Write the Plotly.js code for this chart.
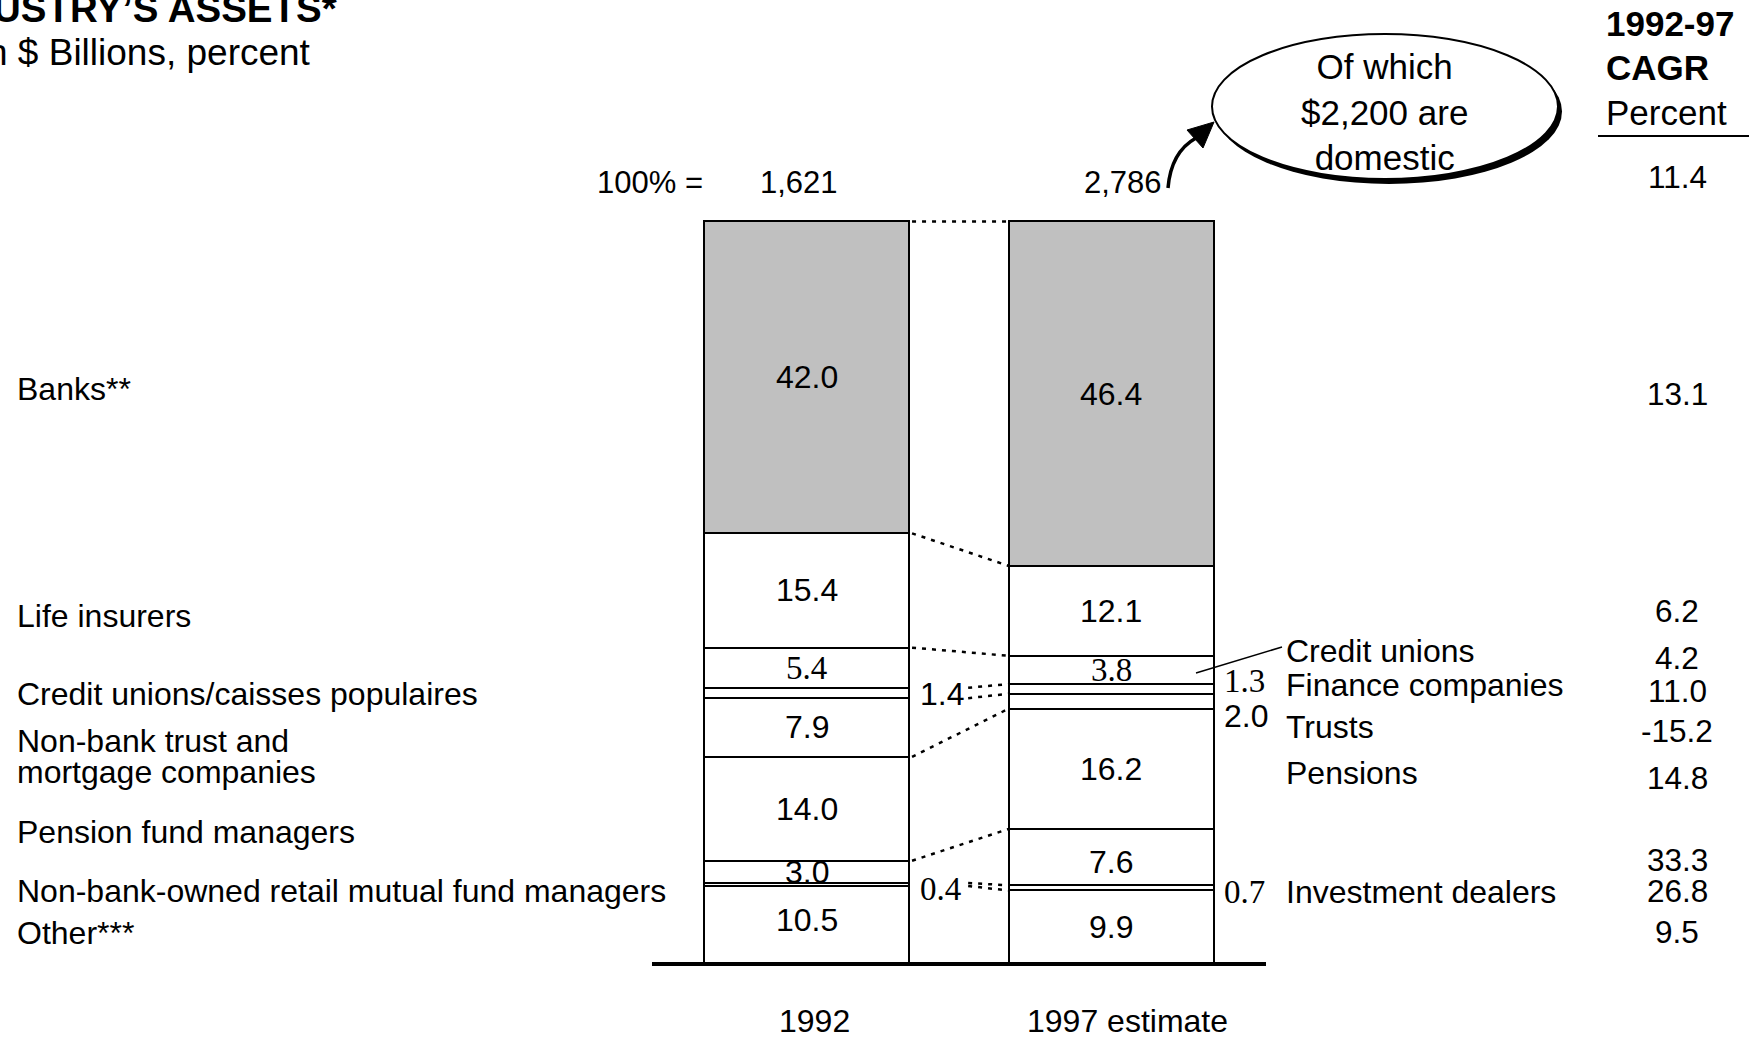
<!DOCTYPE html>
<html>
<head>
<meta charset="utf-8">
<script src="https://cdn.plot.ly/plotly-3.0.1.min.js"></script>
<style>
  html, body { margin: 0; padding: 0; background: #ffffff; }
  #chart { width: 1752px; height: 1040px; }
</style>
</head>
<body>
<div id="chart"></div>
<script>
// ---------------- DATA ----------------
const years = ['1992', '1997 estimate'];
const totals = ['1,621', '2,786'];
const totalLabel = '100% =';
// segments listed from the bottom of each bar to the top
const segments = ['Other', 'Investment dealers', 'Mutual funds', 'Pensions', 'Trusts', 'Finance companies', 'Credit unions', 'Life insurers', 'Banks'];
const share1992 = [10.5, 0.4, 3.0, 14.0, 7.9, 1.4, 5.4, 15.4, 42.0];
const share1997 = [9.9, 0.7, 7.6, 16.2, 2.0, 1.3, 3.8, 12.1, 46.4];
const cagr = [9.5, 26.8, 33.3, 14.8, -15.2, 11.0, 4.2, 6.2, 13.1];
const cagrTotal = 11.4;
const leftLabels = ['Banks**', 'Life insurers', 'Credit unions/caisses populaires', 'Non-bank trust and', 'mortgage companies', 'Pension fund managers', 'Non-bank-owned retail mutual fund managers', 'Other***'];
const rightLabels = ['Credit unions', 'Finance companies', 'Trusts', 'Pensions', 'Investment dealers'];
const headerLines = ['1992-97', 'CAGR', 'Percent'];
const calloutLines = ['Of which', '$2,200 are', 'domestic'];
const titleText = 'USTRY\u2019S ASSETS*';
const subtitleText = 'n $ Billions, percent';

// ---------------- GEOMETRY / STYLE ----------------
const W = 1752, H = 1040;
const L = 652, R = 1266, T = 214, B = 964;
const YMAX = 101;
const X = px => (px - L) / (R - L);
const Y = py => (B - py) / (B - T);
const SANS = 'Liberation Sans, Arial, sans-serif';
const SERIF = 'Liberation Serif, Times New Roman, serif';
const FS = 32;
const BAR_W = 0.672;
const HALF = BAR_W / 2;

const shares = [share1992, share1997];
const cumTops = arr => { let c = 0; return arr.map(v => (c += v)); };
const tops = shares.map(cumTops);

// ---------------- TRACES ----------------
const traces = [];
segments.forEach((s, i) => {
  traces.push({
    type: 'bar',
    name: s,
    x: [0, 1],
    y: [share1992[i], share1997[i]],
    width: BAR_W,
    marker: { color: s === 'Banks' ? '#c0c0c0' : '#ffffff', line: { color: '#000000', width: 2 } },
    cliponaxis: false,
    hoverinfo: 'skip',
    showlegend: false
  });
});

// dotted connectors between the bars at the top of each segment
const betweenLabelSegs = [1, 5]; // 1992 segments labelled in the gap
segments.forEach((s, i) => {
  const nearGapLabel = betweenLabelSegs.includes(i) || betweenLabelSegs.includes(i + 1);
  const x0 = nearGapLabel ? 0.53 : HALF + 0.01;
  traces.push({
    type: 'scatter', mode: 'lines',
    x: [x0, 1 - HALF],
    y: [tops[0][i], tops[1][i]],
    line: { color: '#000000', width: 2.5, dash: '4px,6px' },
    hoverinfo: 'skip', showlegend: false
  });
});

// ---------------- ANNOTATIONS ----------------
const ann = [];
const txt = (o) => Object.assign({ showarrow: false, font: { family: SANS, size: FS, color: '#000' } }, o);

// in-bar value labels
const outside = [[1, 5], [1, 4, 5]];
const serifIdx = [[1, 6], [1, 5, 6]];
const insideShift = { '0-0': 5, '1-2': -5 };
shares.forEach((arr, b) => {
  arr.forEach((v, i) => {
    if (outside[b].includes(i)) return;
    const mid = tops[b][i] - v / 2;
    const serif = serifIdx[b].includes(i);
    ann.push(txt({
      xref: 'x', yref: 'y', x: b, y: mid, yshift: insideShift[b + '-' + i] || 0, text: v.toFixed(1),
      xanchor: 'center', yanchor: 'middle',
      font: { family: serif ? SERIF : SANS, size: serif ? 33 : FS, color: '#000' }
    }));
  });
});
// labels for thin segments, placed beside the bars
const sideShift = { '0-1': -4.5, '0-5': -1, '1-1': -4, '1-4': -15, '1-5': 8 };
shares.forEach((arr, b) => {
  outside[b].forEach(i => {
    const mid = tops[b][i] - arr[i] / 2;
    const serif = serifIdx[b].includes(i);
    ann.push(txt({
      xref: 'x', yref: 'y', x: b + HALF, y: mid, xshift: b === 0 ? 9 : 8,
      yshift: sideShift[b + '-' + i],
      text: arr[i].toFixed(1), xanchor: 'left', yanchor: 'middle',
      font: { family: serif ? SERIF : SANS, size: serif ? 33 : 32, color: '#000' }
    }));
  });
});

// totals above bars
ann.push(txt({ xref: 'paper', yref: 'paper', x: X(650), y: Y(183), text: totalLabel, xanchor: 'center', yanchor: 'middle', font: { family: SANS, size: 31, color: '#000' } }));
totals.forEach((t, b) => {
  ann.push(txt({ xref: 'x', yref: 'paper', x: b, xshift: b === 0 ? -8 : 12, y: Y(183), text: t, xanchor: 'center', yanchor: 'middle', font: { family: SANS, size: 31, color: '#000' } }));
});
// category labels under the baseline
years.forEach((yr, b) => {
  ann.push(txt({ xref: 'x', yref: 'paper', x: b, xshift: b === 0 ? 8 : 16, y: Y(1021), text: yr, xanchor: 'center', yanchor: 'middle' }));
});

// left-hand category names
const leftY = [389, 616, 694, 741, 772, 832, 891, 933];
leftLabels.forEach((t, k) => {
  ann.push(txt({ xref: 'paper', yref: 'paper', x: X(15), y: Y(leftY[k]), text: t, xanchor: 'left', yanchor: 'middle' }));
});
// right-hand names
const rightY = [651, 685, 727, 773, 892];
rightLabels.forEach((t, k) => {
  ann.push(txt({ xref: 'paper', yref: 'paper', x: X(1284), y: Y(rightY[k]), text: t, xanchor: 'left', yanchor: 'middle' }));
});

// CAGR column
const cagrY = [932, 891, 860, 778, 731, 691, 658, 611, 394];
cagr.forEach((v, i) => {
  ann.push(txt({ xref: 'paper', yref: 'paper', x: X(1677), y: Y(cagrY[i]), text: v.toFixed(1), xanchor: 'center', yanchor: 'middle', font: { family: SANS, size: 31.5, color: '#000' } }));
});
ann.push(txt({ xref: 'paper', yref: 'paper', x: X(1677), y: Y(177), text: cagrTotal.toFixed(1), xanchor: 'center', yanchor: 'middle', font: { family: SANS, size: 31.5, color: '#000' } }));
const headerY = [24, 67, 112];
headerLines.forEach((t, k) => {
  ann.push(txt({
    xref: 'paper', yref: 'paper', x: X(1604), y: Y(headerY[k]), text: k < 2 ? '<b>' + t + '</b>' : t,
    xanchor: 'left', yanchor: 'middle', font: { family: SANS, size: 35, color: '#000' }
  }));
});

// callout text
ann.push(txt({ xref: 'paper', yref: 'paper', x: X(1384), y: Y(112), text: calloutLines.join('<br>'), xanchor: 'center', yanchor: 'middle', align: 'center', font: { family: SANS, size: 35, color: '#000' } }));

// title and subtitle (cropped at the left edge in the original)
ann.push(txt({ xref: 'paper', yref: 'paper', x: X(-9), y: Y(8), text: '<b>' + titleText + '</b>', xanchor: 'left', yanchor: 'middle', font: { family: SANS, size: 38.5, color: '#000' } }));
ann.push(txt({ xref: 'paper', yref: 'paper', x: X(-15), y: Y(52), text: subtitleText, xanchor: 'left', yanchor: 'middle', font: { family: SANS, size: 37, color: '#000' } }));

// ---------------- SHAPES ----------------
const P = (px, py) => X(px) + ',' + Y(py);
const shapes = [
  // baseline
  { type: 'line', xref: 'paper', yref: 'paper', x0: X(652), x1: X(1266), y0: Y(964), y1: Y(964), line: { color: '#000', width: 4 } },
  // callout shadow + ellipse
  { type: 'circle', xref: 'paper', yref: 'paper', x0: X(1216), x1: X(1562), y0: Y(184), y1: Y(39), fillcolor: '#000', line: { width: 0 } },
  { type: 'circle', xref: 'paper', yref: 'paper', x0: X(1212), x1: X(1558), y0: Y(179), y1: Y(34), fillcolor: '#fff', line: { color: '#000', width: 2 } },
  // curved arrow
  { type: 'path', xref: 'paper', yref: 'paper', path: 'M ' + P(1168, 188) + ' Q ' + P(1171, 152) + ' ' + P(1196, 138), line: { color: '#000', width: 3.5 } },
  { type: 'path', xref: 'paper', yref: 'paper', path: 'M ' + P(1214, 122) + ' L ' + P(1203, 148) + ' L ' + P(1187, 130) + ' Z', fillcolor: '#000', line: { color: '#000', width: 1 } },
  // leader line for "Credit unions"
  { type: 'line', xref: 'paper', yref: 'paper', x0: X(1196), y0: Y(673), x1: X(1282), y1: Y(647), line: { color: '#000', width: 1.5 } },
  // underline of CAGR header
  { type: 'line', xref: 'paper', yref: 'paper', x0: X(1598), x1: X(1749), y0: Y(136), y1: Y(136), line: { color: '#000', width: 2 } }
];

const layout = {
  width: W, height: H,
  margin: { l: L, r: W - R, t: T, b: H - B, pad: 0 },
  paper_bgcolor: '#ffffff', plot_bgcolor: '#ffffff',
  barmode: 'stack',
  showlegend: false,
  xaxis: { range: [-0.507, 1.507], visible: false, fixedrange: true },
  yaxis: { range: [0, YMAX], visible: false, fixedrange: true },
  annotations: ann,
  shapes: shapes,
  font: { family: SANS, color: '#000' }
};

Plotly.newPlot('chart', traces, layout, { staticPlot: true, displayModeBar: false });
</script>
</body>
</html>
